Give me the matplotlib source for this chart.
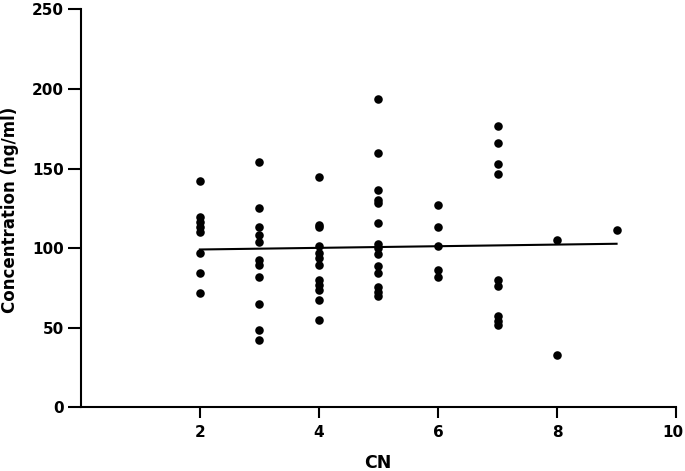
import matplotlib
matplotlib.use("Agg")
import matplotlib.pyplot as plt
import matplotlib.transforms as mtransforms

cn_2 = [142.3, 119.7, 116.6, 113.4, 110.5, 97.3, 84.2, 71.6]
cn_3 = [154.1, 125.4, 113.4, 108.5, 104.0, 92.5, 89.4, 82.0, 64.7, 48.5, 42.2]
cn_4 = [144.9, 114.8, 113.1, 101.7, 96.7, 93.6, 89.4, 80.0, 76.8, 73.7, 67.4, 54.8]
cn_5 = [193.7, 159.9, 136.5, 130.6, 128.1, 116.0, 102.6, 99.9, 96.3, 88.9, 84.5, 75.6, 72.5, 69.9]
cn_6 = [127.1, 113.4, 101.5, 86.2, 82.0]
cn_7 = [176.9, 166.3, 152.8, 146.4, 80.0, 76.2, 57.3, 54.4, 51.5]
cn_8 = [105.1, 32.9]
cn_9 = [111.4]
groups = {2: cn_2, 3: cn_3, 4: cn_4, 5: cn_5, 6: cn_6, 7: cn_7, 8: cn_8, 9: cn_9}

fit_x = [2, 9]
fit_y = [99.2, 102.8]

x_ticks = [2, 4, 6, 8, 10]
y_ticks = [0, 50, 100, 150, 200, 250]

plt.rcParams['font.family'] = ['DejaVu Sans']
plt.rcParams['font.weight'] = 'bold'

fig = plt.figure(figsize=(6.85, 4.71), dpi=100)
ax = fig.add_axes([0.118, 0.135, 0.869, 0.845])

xs, ys = [], []
for k, v in groups.items():
    xs += [k] * len(v)
    ys += v
ax.scatter(xs, ys, s=38, color='black', zorder=3, linewidths=0)
ax.plot(fit_x, fit_y, color='black', lw=1.5, zorder=2)

ax.set_xlim(0, 10)
ax.set_ylim(0, 250)
ax.set_xticks(x_ticks)
ax.set_yticks(y_ticks)
ax.tick_params(axis='both', direction='out', width=1.5, labelsize=11)
ax.tick_params(axis='y', length=9.5, pad=2.5)
ax.tick_params(axis='x', length=8, pad=5)
for lab in ax.get_xticklabels() + ax.get_yticklabels():
    lab.set_fontweight('bold')
last = ax.get_xticklabels()[-1]
last.set_transform(last.get_transform() + mtransforms.ScaledTranslation(-3 / 100, 0, fig.dpi_scale_trans))
for s in ['top', 'right']:
    ax.spines[s].set_visible(False)
for s in ['left', 'bottom']:
    ax.spines[s].set_linewidth(1.5)
ax.set_xlabel('CN', fontsize=12.5, fontweight='bold')
ax.set_ylabel('Concentration (ng/ml)', fontsize=12, fontweight='bold')
ax.xaxis.set_label_coords(0.499, -0.117)
ax.yaxis.set_label_coords(-0.104, 0.496)

fig.savefig('out.png', dpi=100)
